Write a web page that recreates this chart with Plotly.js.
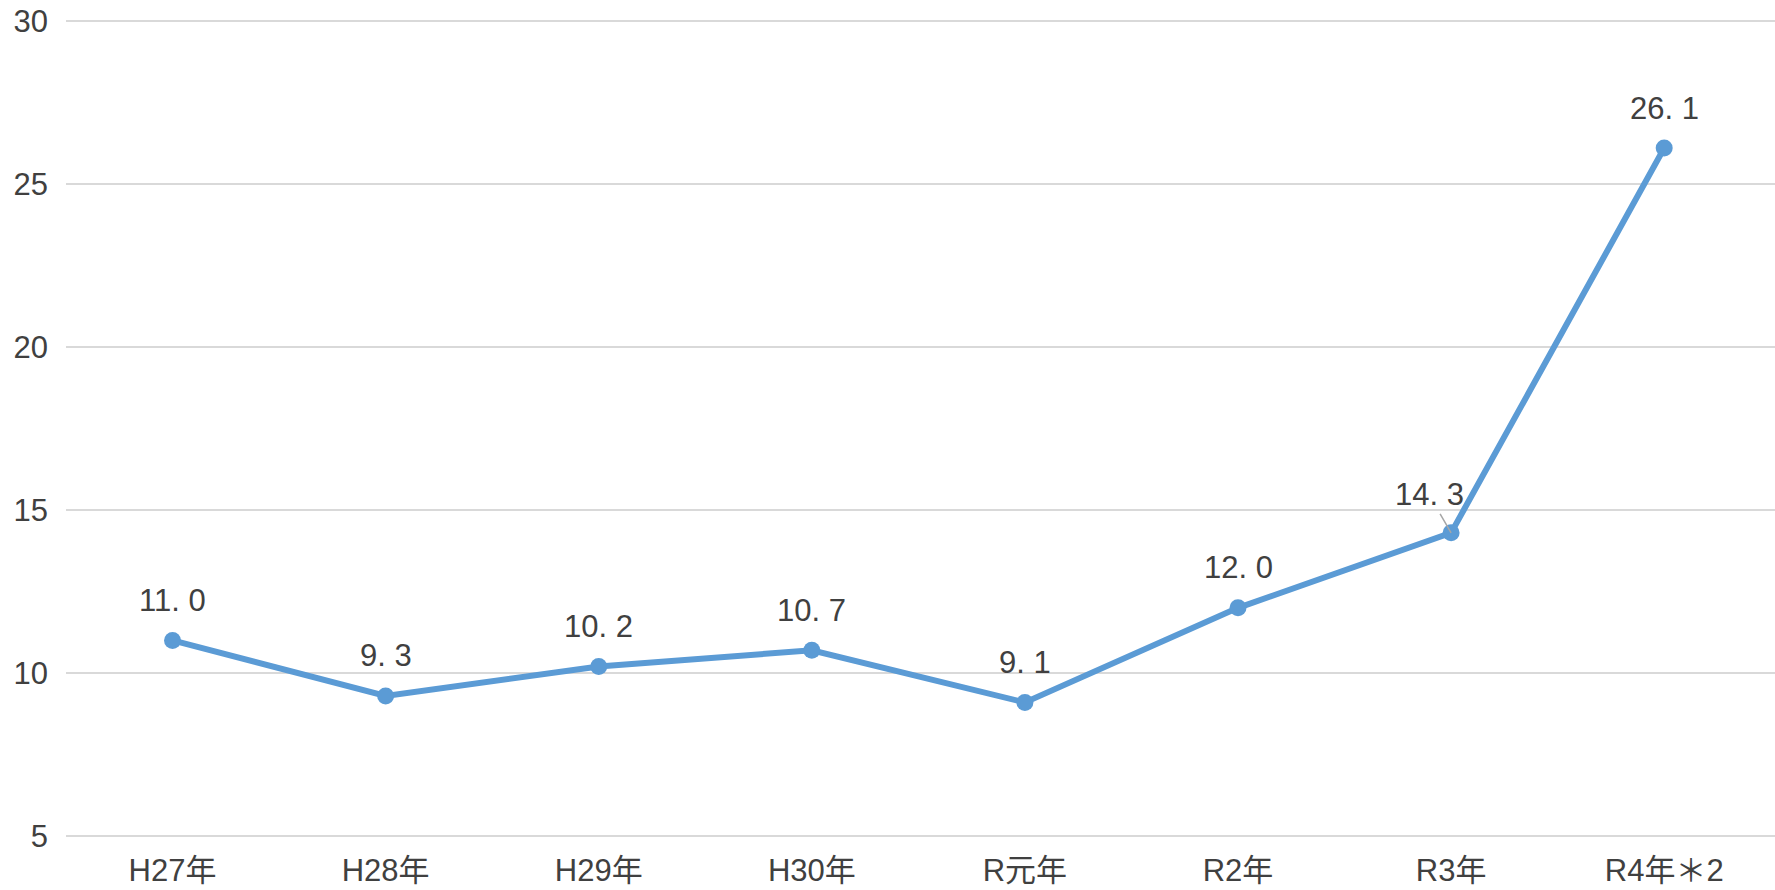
<!DOCTYPE html>
<html>
<head>
<meta charset="utf-8">
<script src="https://cdn.plot.ly/plotly-3.0.1.min.js"></script>
<style>
  html, body { margin: 0; padding: 0; background: #fff; }
  #chart { width: 1775px; height: 890px; }
</style>
</head>
<body>
<div id="chart"></div>
<script>
// Data
const categories = ["H27年", "H28年", "H29年", "H30年", "R元年", "R2年", "R3年", "R4年＊2"];
const values = [11.0, 9.3, 10.2, 10.7, 9.1, 12.0, 14.3, 26.1];
const yTickValues = [5, 10, 15, 20, 25, 30];

const FONT = '"Liberation Sans", "Noto Sans CJK JP", sans-serif';
const TEXT_COLOR = '#404040';

function fmt(v) {
  const s = v.toFixed(1).split('.');
  return s[0] + '. ' + s[1];
}

const trace = {
  type: 'scatter',
  mode: 'lines+markers',
  x: categories,
  y: values,
  line: { color: '#5B9BD5', width: 6 },
  marker: { color: '#5B9BD5', size: 17 },
  hoverinfo: 'x+y'
};

const annotations = values.map((v, i) => {
  const isLeader = (i === 6);
  const a = {
    x: categories[i],
    y: v,
    xref: 'x',
    yref: 'y',
    text: fmt(v),
    font: { family: FONT, size: 31, color: TEXT_COLOR },
    showarrow: false,
    yshift: 40
  };
  if (isLeader) {
    a.showarrow = true;
    a.yshift = 0;
    a.ax = -22;
    a.ay = -38;
    a.arrowhead = 0;
    a.arrowwidth = 1.5;
    a.arrowcolor = '#A6A6A6';
    a.standoff = 0;
    a.startstandoff = 0;
  }
  return a;
});

const layout = {
  width: 1775,
  height: 890,
  margin: { l: 66, r: 0, t: 16, b: 49 },
  paper_bgcolor: '#ffffff',
  plot_bgcolor: '#ffffff',
  showlegend: false,
  font: { family: FONT, size: 31, color: TEXT_COLOR },
  xaxis: {
    type: 'category',
    range: [-0.5, 7.52],
    showgrid: false,
    zeroline: false,
    showline: false,
    ticks: '',
    ticklabelstandoff: 8,
    tickfont: { family: FONT, size: 31, color: TEXT_COLOR }
  },
  yaxis: {
    range: [4.85, 30.15],
    tickvals: yTickValues,
    ticktext: yTickValues.map(String),
    showgrid: true,
    gridcolor: '#D9D9D9',
    gridwidth: 1.5,
    zeroline: false,
    showline: false,
    ticks: '',
    ticklabelstandoff: 17,
    tickfont: { family: FONT, size: 31, color: TEXT_COLOR }
  },
  annotations: annotations
};

Plotly.newPlot('chart', [trace], layout, { staticPlot: true, displayModeBar: false });
</script>
</body>
</html>
